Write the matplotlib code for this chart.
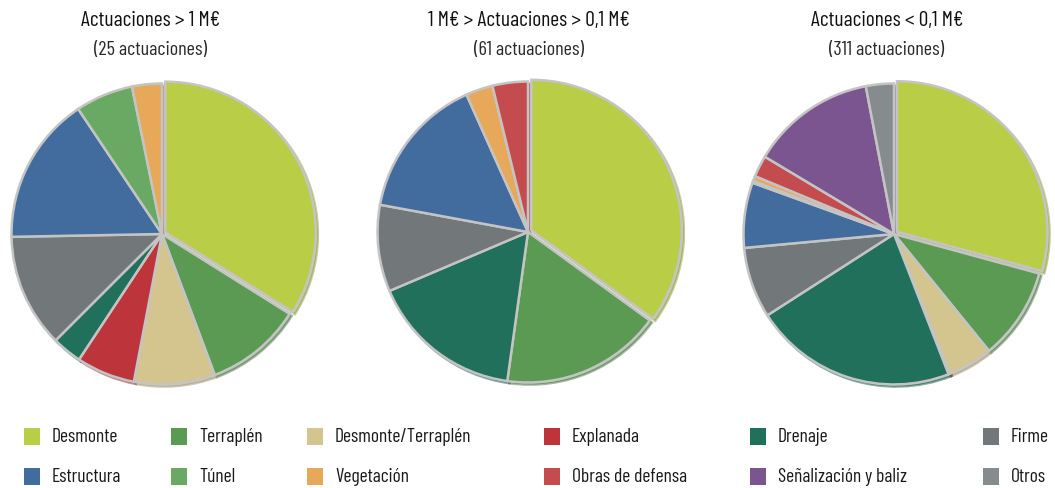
import matplotlib
matplotlib.use('Agg')
import matplotlib.pyplot as plt
from matplotlib.patches import Rectangle
from matplotlib import font_manager

# categories and colours (legend order)
categorias = ['Desmonte', 'Terraplén', 'Desmonte/Terraplén', 'Explanada', 'Drenaje', 'Firme',
              'Estructura', 'Túnel', 'Vegetación', 'Obras de defensa', 'Señalización y baliz', 'Otros']
colores = ['#b9cd47', '#5b9a52', '#d4c58f', '#be343b', '#21705c', '#72777a',
           '#426b9e', '#6aa964', '#e8a85a', '#c44c4e', '#7b5590', '#868b8e']
col = dict(zip(categorias, colores))

# pie 1: Actuaciones > 1 M€ (% clockwise from top)
p1_cat = ['Desmonte', 'Terraplén', 'Desmonte/Terraplén', 'Explanada', 'Drenaje', 'Firme',
          'Estructura', 'Túnel', 'Vegetación']
p1_val = [33.9, 10.4, 8.7, 6.3, 3.2, 12.2, 15.9, 6.2, 3.2]

# pie 2: 1 M€ > Actuaciones > 0,1 M€
p2_cat = ['Desmonte', 'Terraplén', 'Drenaje', 'Firme', 'Estructura', 'Vegetación', 'Obras de defensa']
p2_val = [35.0, 17.2, 16.4, 9.3, 15.4, 2.9, 3.8]

# pie 3: Actuaciones < 0,1 M€
p3_cat = ['Desmonte', 'Terraplén', 'Desmonte/Terraplén', 'Explanada', 'Drenaje', 'Firme',
          'Estructura', 'Túnel', 'Vegetación', 'Obras de defensa', 'Señalización y baliz', 'Otros']
p3_val = [29.2, 9.9, 4.8, 0.15, 21.8, 7.6, 7.0, 0.2, 0.55, 2.3, 13.4, 3.0]

titulos = ['Actuaciones > 1 M€', '1 M€ > Actuaciones > 0,1 M€', 'Actuaciones < 0,1 M€']
subtitulos = ['(25 actuaciones)', '(61 actuaciones)', '(311 actuaciones)']

# condensed font if there is one, else DejaVu
names = {f.name for f in font_manager.fontManager.ttflist}
narrow = [f for f in ['Barlow Condensed', 'Archivo Narrow', 'Roboto Condensed',
                      'Liberation Sans Narrow'] if f in names]
plt.rcParams['font.family'] = narrow[:1] + ['DejaVu Sans']
k = 1.0 if narrow else 0.8

W, H = 1055, 488
fig = plt.figure(figsize=(W / 100, H / 100), dpi=100)

pies = [(p1_cat, p1_val), (p2_cat, p2_val), (p3_cat, p3_val)]
centros = [(162, 234), (528, 232), (894, 234)]
radio = 151
tit_x = [151, 529, 887]

for i, (cats, vals) in enumerate(pies):
    cx, cy = centros[i]
    ax = fig.add_axes([(cx - radio - 4) / W, (H - cy - radio - 4) / H,
                       (2 * radio + 8) / W, (2 * radio + 8) / H])
    explode = [0.025 if c == 'Desmonte' else 0.0 for c in cats]
    ax.pie(vals, colors=[col[c] for c in cats], startangle=90, counterclock=False,
           explode=explode, radius=1.0,
           wedgeprops=dict(edgecolor='#c4c4c4', linewidth=1.8),
           shadow=dict(ox=0.01, oy=-0.01, shade=0.25))
    ax.set_xlim(-1.03, 1.03)
    ax.set_ylim(-1.03, 1.03)
    ax.set_aspect('equal')
    ax.axis('off')
    fig.text(tit_x[i] / W, 1 - 21 / H, titulos[i], ha='center', va='center',
             fontsize=15.5 * k, color='#111111')
    fig.text(tit_x[i] / W, 1 - 50 / H, subtitulos[i], ha='center', va='center',
             fontsize=14.5 * k, color='#2a2a2a')

# legend
leg_x = [24, 171, 307, 544, 750, 983]
leg_y = [437, 477]
for j, c in enumerate(categorias):
    fila, columna = divmod(j, 6)
    x, y = leg_x[columna], leg_y[fila]
    fig.patches.append(Rectangle((x / W, (H - y - 8) / H), 16 / W, 17 / H,
                                 transform=fig.transFigure, facecolor=col[c],
                                 edgecolor='none'))
    fig.text((x + 28) / W, 1 - y / H, c, ha='left', va='center', fontsize=14 * k,
             color='#1a1a1a')

fig.savefig('out.png', dpi=100)
